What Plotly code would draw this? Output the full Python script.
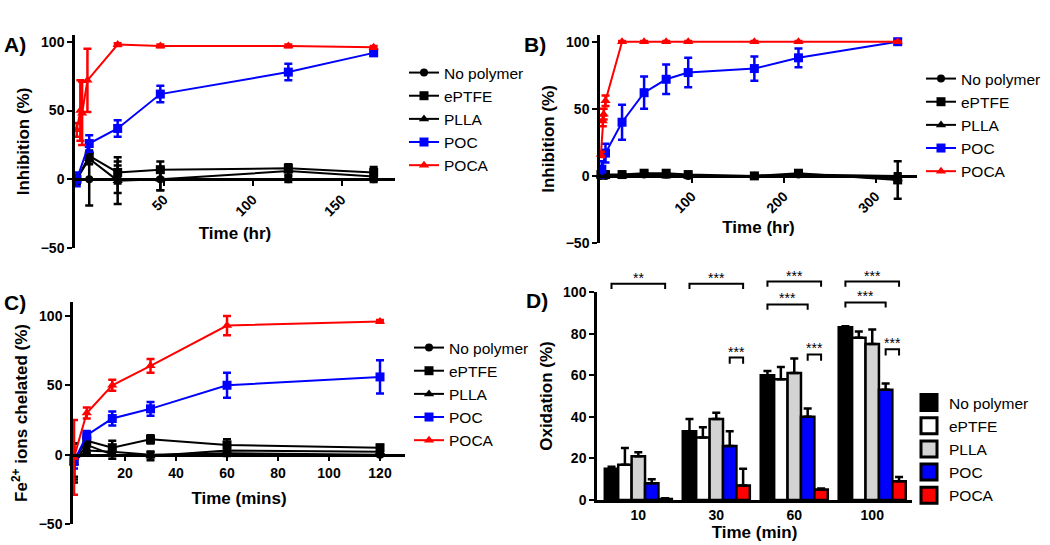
import plotly.graph_objects as go

W, H = 1050, 545
FONT = "Liberation Sans"

names = ["No polymer", "ePTFE", "PLLA", "POC", "POCA"]
colors = ["black", "black", "black", "#0000ff", "#ff0000"]
symbols = ["circle", "square", "triangle-up", "square", "triangle-up"]

# ---------------- Panel A (Inhibition vs time, hr) ----------------
a_t_black = [1, 8, 24, 48, 120, 168]
a_nopoly = [0, 0, 0, 0, 0, 0]
a_nopoly_err = [3, 19, 10, 8, 2, 2]
a_eptfe = [0, 17, 5, 7, 8, 5]
a_eptfe_err = [3, 4, 8, 6, 3, 4]
a_plla = [0, 15, -1, 0, 6, 2]
a_plla_err = [3, 4, 17, 8, 3, 3]
a_t_poc = [1, 8, 24, 48, 120, 168]
a_poc = [0, 26, 37, 62, 78, 92]
a_poc_err = [5, 6, 6, 6, 6, 2]
a_t_poca = [1, 3, 4, 7, 24, 48, 120, 168]
a_poca = [36, 50, 48, 72, 98, 97, 97, 96]
a_poca_err = [5, 22, 23, 23, 1, 1, 1, 1]

# ---------------- Panel B (Inhibition vs time, hr) ----------------
b_t_black = [1, 6, 24, 48, 72, 96, 168, 216, 324]
b_nopoly = [0, 0, 1, 1, 1, 0, 0, 1, 0]
b_nopoly_err = [1, 1, 1, 1, 1, 1, 1, 1, 2]
b_eptfe = [1, 1, 1, 2, 2, 1, 0, 2, -3]
b_eptfe_err = [1, 1, 1, 1, 1, 1, 1, 1, 14]
b_plla = [0, 0, 0, 1, 0, 0, 0, 1, -2]
b_plla_err = [1, 1, 1, 1, 1, 1, 1, 1, 3]
b_t_poc = [2, 6, 24, 48, 72, 96, 168, 216, 324]
b_poc = [5, 17, 40, 62, 72, 77, 80, 88, 100]
b_poc_err = [6, 7, 13, 12, 11, 11, 9, 7, 1]
b_t_poca = [1, 3, 4, 6, 24, 48, 72, 96, 168, 216, 324]
b_poca = [16, 41, 46, 56, 100, 100, 100, 100, 100, 100, 100]
b_poca_err = [2, 4, 4, 4, 0.5, 0.5, 0.5, 0.5, 0.5, 0.5, 0.5]

# ---------------- Panel C (Fe2+ chelated vs time, mins) ----------------
c_t = [0, 5, 15, 30, 60, 120]
c_nopoly = [-5, 3, 2, 0, 1, 0]
c_nopoly_err = [13, 3, 3, 2, 2, 1]
c_eptfe = [-4, 10, 5, 11, 7, 5]
c_eptfe_err = [12, 4, 5, 3, 4, 2]
c_plla = [-6, 7, 0, -1, 3, 2]
c_plla_err = [14, 6, 3, 3, 2, 1]
c_poc = [-5, 14, 26, 33, 50, 56]
c_poc_err = [5, 3, 5, 5, 9, 12]
c_poca = [-2, 30, 50, 64, 93, 96]
c_poca_err = [27, 4, 4, 5, 7, 1]

# ---------------- Panel D (Oxidation bars) ----------------
d_groups = ["10", "30", "60", "100"]
d_vals = {
    "No polymer": [15, 33, 60, 83],
    "ePTFE": [17, 30, 58, 78],
    "PLLA": [21, 39, 61, 75],
    "POC": [8, 26, 40, 53],
    "POCA": [0.5, 7, 5, 9],
}
d_errs = {
    "No polymer": [1, 6, 2, 0.5],
    "ePTFE": [8, 5, 6, 3],
    "PLLA": [2, 3, 7, 7],
    "POC": [2, 7, 4, 3],
    "POCA": [0.3, 8, 0.5, 2],
}
d_fill = ["black", "white", "#d3d3d3", "#0000ff", "#ff0000"]
# significance brackets: (group, first bar, last bar, height, label)
d_sig = [
    (0, 0, 4, 104, "**"),
    (1, 0, 4, 104, "***"),
    (2, 0, 4, 105, "***"),
    (2, 0, 3, 94, "***"),
    (3, 0, 4, 105, "***"),
    (3, 0, 3, 95, "***"),
    (1, 3, 4, 68.5, "***"),
    (2, 3, 4, 70, "***"),
    (3, 3, 4, 72.5, "***"),
]

fig = go.Figure()

def add_line_panel(xax, yax, legend, data):
    for i, (t, y, e) in enumerate(data):
        fig.add_trace(go.Scatter(
            x=t, y=y, mode="lines+markers", name=names[i],
            xaxis=xax, yaxis=yax, legend=legend,
            line=dict(color=colors[i], width=2),
            marker=dict(color=colors[i], symbol=symbols[i], size=9 if symbols[i] != "circle" else 8),
            error_y=dict(type="data", array=e, color=colors[i], thickness=2.5, width=4),
            cliponaxis=False,
        ))

add_line_panel("x", "y", "legend", [
    (a_t_black, a_nopoly, a_nopoly_err),
    (a_t_black, a_eptfe, a_eptfe_err),
    (a_t_black, a_plla, a_plla_err),
    (a_t_poc, a_poc, a_poc_err),
    (a_t_poca, a_poca, a_poca_err),
])
add_line_panel("x2", "y2", "legend2", [
    (b_t_black, b_nopoly, b_nopoly_err),
    (b_t_black, b_eptfe, b_eptfe_err),
    (b_t_black, b_plla, b_plla_err),
    (b_t_poc, b_poc, b_poc_err),
    (b_t_poca, b_poca, b_poca_err),
])
add_line_panel("x3", "y3", "legend3", [
    (c_t, c_nopoly, c_nopoly_err),
    (c_t, c_eptfe, c_eptfe_err),
    (c_t, c_plla, c_plla_err),
    (c_t, c_poc, c_poc_err),
    (c_t, c_poca, c_poca_err),
])

BW = 0.172
gx = list(range(len(d_groups)))
for i, n in enumerate(names):
    fig.add_trace(go.Bar(
        x=gx, y=d_vals[n], name=n, xaxis="x4", yaxis="y4", showlegend=False,
        width=BW, offset=(i - 2.5) * BW,
        marker=dict(color=d_fill[i], line=dict(color="black", width=2.5)),
        error_y=dict(type="data", array=d_errs[n], arrayminus=[0] * 4, symmetric=False,
                     color="black", thickness=2.5, width=4),
    ))
# legend keys for the bar panel (large outlined squares)
for i, n in enumerate(names):
    fig.add_trace(go.Scatter(
        x=[None], y=[None], mode="markers", name=n, xaxis="x4", yaxis="y4", legend="legend4",
        marker=dict(symbol="square", size=16, color=d_fill[i], line=dict(color="black", width=3)),
    ))

# domains (paper fractions)
dom = {
    "A": dict(x=[75 / W, 395 / W], y=[1 - 248 / H, 1 - 35 / H]),
    "B": dict(x=[600 / W, 917 / W], y=[1 - 243 / H, 1 - 35 / H]),
    "C": dict(x=[73 / W, 405 / W], y=[1 - 524 / H, 1 - 302 / H]),
    "D": dict(x=[597 / W, 912 / W], y=[1 - 500 / H, 1 - 292 / H]),
}
yr = {"A": [-50, 105], "B": [-50, 105], "C": [-50, 110], "D": [0, 100]}

def zero_pos(p):
    d0, d1 = dom[p]["y"]
    r0, r1 = yr[p]
    return d0 + (0 - r0) / (r1 - r0) * (d1 - d0)

tickfont = dict(family=FONT, size=14, color="black", weight="bold")
titlefont = dict(family=FONT, size=17, color="black", weight="bold")
axcommon = dict(showgrid=False, zeroline=False, showline=True, linecolor="black", linewidth=2.5,
                ticks="outside", ticklen=5, tickwidth=2, tickcolor="black", tickfont=tickfont,
                automargin=False)

fig.update_layout(
    template="none",
    width=W, height=H, margin=dict(l=0, r=0, t=0, b=0, autoexpand=False),
    paper_bgcolor="white", plot_bgcolor="rgba(0,0,0,0)",
    barmode="overlay", showlegend=True,
    font=dict(family=FONT, color="black"),
    xaxis=dict(axcommon, domain=dom["A"]["x"], range=[0, 180], anchor="free", position=zero_pos("A"),
               tickvals=[50, 100, 150], tickangle=-45,
               title=dict(text="Time (hr)", font=titlefont, standoff=8)),
    yaxis=dict(axcommon, domain=dom["A"]["y"], range=yr["A"], anchor="x", tickvals=[-50, 0, 50, 100],
               title=dict(text="Inhibition (%)", font=titlefont, standoff=7)),
    xaxis2=dict(axcommon, domain=dom["B"]["x"], range=[0, 345], anchor="free", position=zero_pos("B"),
                tickvals=[100, 200, 300], tickangle=-45,
                title=dict(text="Time (hr)", font=titlefont, standoff=6)),
    yaxis2=dict(axcommon, domain=dom["B"]["y"], range=yr["B"], anchor="x2", tickvals=[-50, 0, 50, 100],
                title=dict(text="Inhibition (%)", font=titlefont, standoff=7)),
    xaxis3=dict(axcommon, domain=dom["C"]["x"], range=[-0.4, 129.8], anchor="free", position=zero_pos("C"),
                tickvals=[20, 40, 60, 80, 100, 120],
                title=dict(text="Time (mins)", font=titlefont, standoff=11)),
    yaxis3=dict(axcommon, domain=dom["C"]["y"], range=yr["C"], anchor="x3", tickvals=[-50, 0, 50, 100],
                title=dict(text="Fe<sup>2+</sup> ions chelated (%)", font=titlefont, standoff=7)),
    xaxis4=dict(axcommon, domain=dom["D"]["x"], range=[-0.53, 3.51], anchor="y4",
                tickvals=gx, ticktext=d_groups, ticks="",
                title=dict(text="Time (min)", font=titlefont, standoff=3)),
    yaxis4=dict(axcommon, domain=dom["D"]["y"], range=yr["D"], anchor="x4", tickvals=[0, 20, 40, 60, 80, 100],
                title=dict(text="Oxidation (%)", font=titlefont, standoff=7)),
)

legfont = dict(family=FONT, size=15.5, color="black")
def leg(xp, ytop):
    return dict(x=xp / W, y=1 - ytop / H, xanchor="left", yanchor="top", font=legfont,
                bgcolor="rgba(0,0,0,0)", borderwidth=0, traceorder="normal", itemsizing="trace")
fig.update_layout(
    legend=leg(404, 56),
    legend2=leg(921, 62),
    legend3=leg(409, 331),
    legend4=leg(909, 386),
)

# panel letters
for txt, xp, yp in [("A)", 2, 45), ("B)", 522, 45), ("C)", 2, 302), ("D)", 524, 300)]:
    fig.add_annotation(text=txt, x=xp / W, y=1 - yp / H, xref="paper", yref="paper",
                       xanchor="left", yanchor="middle", showarrow=False,
                       font=dict(family=FONT, size=21, color="black", weight="bold"))

# significance brackets in panel D
r0, r1 = yr["D"]
for g, b0, b1, h, lab in d_sig:
    xa = g + (b0 - 2) * BW
    xb = g + (b1 - 2) * BW
    yf = (h - r0) / (r1 - r0)
    leg_len = 2.5 / (r1 - r0) if b1 - b0 > 1 else 3.0 / (r1 - r0)
    fig.add_shape(type="path", xref="x4", yref="y4 domain",
                  path=f"M {xa},{yf - leg_len} L {xa},{yf} L {xb},{yf} L {xb},{yf - leg_len}",
                  line=dict(color="black", width=2))
    fig.add_annotation(text=lab, x=(xa + xb) / 2, y=yf, xref="x4", yref="y4 domain",
                       showarrow=False, yanchor="middle", yshift=6,
                       font=dict(family=FONT, size=14, color="black"))

fig.write_html("out.html", config={"displayModeBar": False},
               post_script="document.body.style.margin='0';")
